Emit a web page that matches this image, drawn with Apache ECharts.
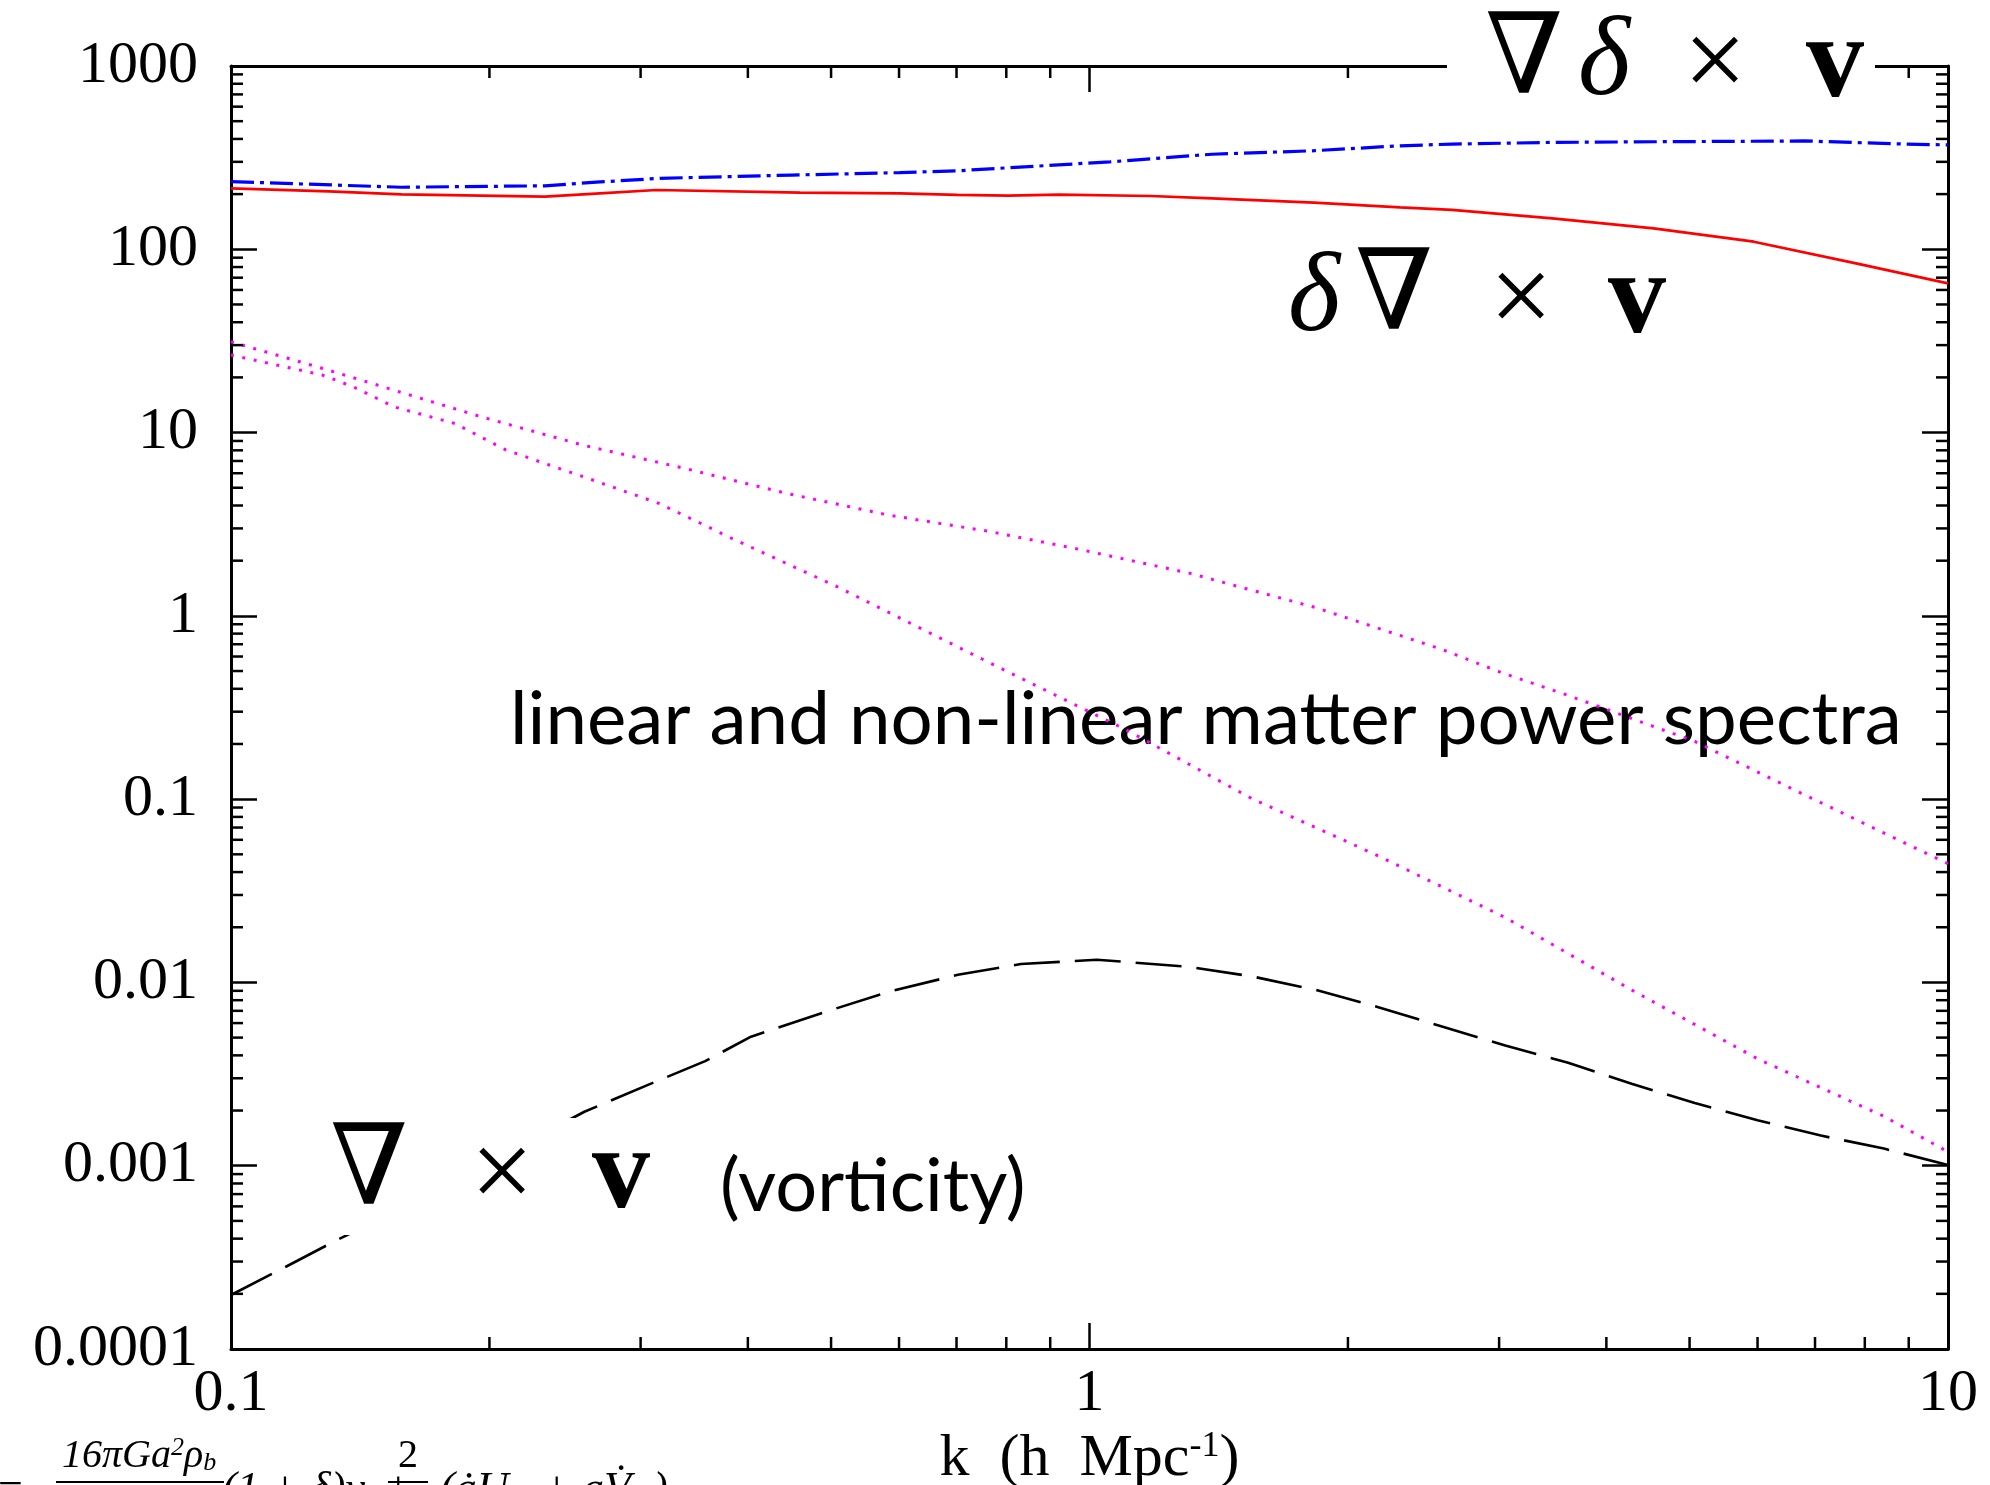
<!DOCTYPE html>
<html><head><meta charset="utf-8">
<script src="https://cdn.jsdelivr.net/npm/echarts@6/dist/echarts.min.js"></script>
<style>html,body{margin:0;padding:0;background:#fff}#c{width:1990px;height:1485px}</style>
</head><body><div id="c"></div>
<script>
// ---- data ----
const kRed = [0.1, 0.13, 0.158, 0.232, 0.269, 0.313, 0.46, 0.601, 0.701, 0.804, 0.921, 1.179, 1.389, 1.826, 2.30, 2.644, 3.46, 4.54, 5.94, 7.79, 10];
const vRed = [215, 207, 199.5, 193.6, 202, 210.6, 203.6, 202, 197.9, 196, 198.6, 195.3, 189.7, 179.6, 169.5, 164, 147.6, 130, 110, 84, 65.2];

const kBlue = [0.1, 0.158, 0.232, 0.269, 0.316, 0.45, 0.601, 0.701, 1.056, 1.389, 1.826, 2.30, 2.644, 3.46, 4.54, 6.8, 8.9, 10];
const vBlue = [234, 218, 222, 233, 244, 254, 262, 268, 300, 330, 345, 367, 375, 383, 386, 390, 375, 371];

const kNonlin = [0.1, 0.1295, 0.159, 0.198, 0.2567, 0.3375, 0.4436, 0.583, 0.767, 0.98, 1.307, 1.834, 2.574, 3.02, 3.61, 5.07, 6.58, 7.11, 10];
const vNonlin = [31.3, 22, 16.4, 12.0, 8.55, 6.38, 4.66, 3.55, 2.88, 2.29, 1.71, 1.11, 0.656, 0.49, 0.368, 0.2065, 0.114, 0.0957, 0.0444];

const kLin = [0.1, 0.1278, 0.1387, 0.155, 0.1824, 0.209, 0.2638, 0.315, 0.387, 0.5087, 0.767, 1.103, 1.55, 2.17, 3.05, 4.28, 6.0, 8.42, 10];
const vLin = [26.5, 20.6, 17.8, 13.8, 11.2, 8.04, 5.51, 4.11, 2.59, 1.44, 0.551, 0.239, 0.1, 0.049, 0.0226, 0.0091, 0.00383, 0.00186, 0.00119];

const kVort = [0.1, 0.116, 0.133, 0.16, 0.2, 0.258, 0.306, 0.3567, 0.4034, 0.5006, 0.584, 0.7025, 0.832, 1.02, 1.307, 1.55, 1.834, 2.17, 2.574, 3.05, 3.61, 4.28, 5.07, 6.0, 7.11, 8.42, 10];
const vVort = [0.000197, 0.000282, 0.000394, 0.0006, 0.00105, 0.00197, 0.00276, 0.00372, 0.00506, 0.00708, 0.0089, 0.011, 0.0126, 0.0133, 0.01216, 0.01076, 0.0091, 0.00733, 0.00575, 0.00453, 0.00365, 0.0028, 0.0022, 0.00177, 0.00146, 0.00124, 0.00101];

const yTickLabels = ['0.0001', '0.001', '0.01', '0.1', '1', '10', '100', '1000'];
const xTickLabels = ['0.1', '1', '10'];

// ---- chart ----
const X_MIN = 0.1, X_MAX = 10, Y_MIN = 1e-4, Y_MAX = 1000;
function pairs(k, v) { return k.map((x, i) => [x, v[i]]); }

const xMinor = [];
for (let d = 0.1; d < 9; d *= 10) for (let m = 2; m <= 9; m++) xMinor.push(+(d * m).toPrecision(3));
const yMinor = [];
for (let e = -4; e < 3; e++) for (let m = 2; m <= 9; m++) yMinor.push(+(m * Math.pow(10, e)).toPrecision(3));
const minorData = [];
xMinor.forEach(v => { minorData.push([v, Y_MIN, 0]); minorData.push([v, Y_MAX, 1]); });
yMinor.forEach(v => { minorData.push([X_MIN, v, 2]); minorData.push([X_MAX, v, 3]); });

const serif = 'Liberation Serif';
const labelFont = { fontFamily: serif, fontSize: 60, color: '#000' };

function txt(text, x, y, size, opts) {
  opts = opts || {};
  return {
    type: 'text', x: x, y: y, z: opts.z == null ? 101 : opts.z,
    style: Object.assign({
      text: text,
      fontFamily: opts.family || serif,
      fontSize: size,
      fontWeight: opts.weight || 'normal',
      fontStyle: opts.style || 'normal',
      fill: '#000',
      textAlign: opts.align || 'center', align: opts.align || 'center',
      textVerticalAlign: 'middle', verticalAlign: 'middle'
    }, opts.extra || {})
  };
}
function box(x, y, w, h) {
  return { type: 'rect', z: 100, shape: { x: x, y: y, width: w, height: h }, style: { fill: '#fff' } };
}

const chart = echarts.init(document.getElementById('c'), null, { renderer: 'canvas' });
const axisCommon = {
  type: 'log', logBase: 10,
  axisLine: { show: true, lineStyle: { color: '#000', width: 3 } },
  axisTick: { show: true, inside: true, length: 26, lineStyle: { color: '#000', width: 2.5 } },
  splitLine: { show: false },
  minorTick: { show: false }, minorSplitLine: { show: false }
};

chart.setOption({
  backgroundColor: '#fff',
  animation: false,
  grid: { left: 231, right: 42, top: 66, bottom: 136, containLabel: false, outerBoundsMode: 'none' },
  xAxis: [
    Object.assign({}, axisCommon, {
      position: 'bottom', min: X_MIN, max: X_MAX,
      axisLabel: Object.assign({}, labelFont, {
        margin: 15, showMinLabel: true, showMaxLabel: true,
        formatter: v => xTickLabels[Math.round(Math.log10(v)) + 1]
      }),
      name: 'k  (h  Mpc{sup|-1})', nameLocation: 'middle', nameGap: 76,
      nameTextStyle: { fontFamily: serif, fontSize: 60, color: '#000',
        rich: { sup: { fontFamily: serif, fontSize: 36, color: '#000', verticalAlign: 'top', padding: [0, 0, 24, 0] } } }
    }),
    Object.assign({}, axisCommon, { position: 'top', min: X_MIN, max: X_MAX, axisLabel: { show: false } })
  ],
  yAxis: [
    Object.assign({}, axisCommon, {
      position: 'left', min: Y_MIN, max: Y_MAX,
      axisLabel: Object.assign({}, labelFont, {
        margin: 33, showMinLabel: true, showMaxLabel: true,
        formatter: v => yTickLabels[Math.round(Math.log10(v)) + 4]
      })
    }),
    Object.assign({}, axisCommon, { position: 'right', min: Y_MIN, max: Y_MAX, axisLabel: { show: false } })
  ],
  series: [
    { type: 'line', name: 'nonlinear', data: pairs(kNonlin, vNonlin), showSymbol: false, z: 2,
      lineStyle: { color: '#ff00ff', width: 3, type: [3, 8.6], cap: 'butt' } },
    { type: 'line', name: 'linear', data: pairs(kLin, vLin), showSymbol: false, z: 2,
      lineStyle: { color: '#ff00ff', width: 3, type: [3, 8.6], cap: 'butt' } },
    { type: 'line', name: 'deltaCurl', data: pairs(kRed, vRed), showSymbol: false, z: 3,
      lineStyle: { color: '#ff0000', width: 2.7, type: 'solid' } },
    { type: 'line', name: 'gradDeltaCross', data: pairs(kBlue, vBlue), showSymbol: false, z: 3,
      lineStyle: { color: '#0000ff', width: 3.2, type: [23, 6, 4, 6], cap: 'butt' } },
    { type: 'line', name: 'vorticity', data: pairs(kVort, vVort), showSymbol: false, z: 3,
      lineStyle: { color: '#000', width: 2.6, type: [46, 15], cap: 'butt' } },
    { type: 'custom', name: 'minorTicks', data: minorData, clip: false, silent: true, z: 4,
      encode: { x: 0, y: 1 },
      renderItem: function (params, api) {
        const side = api.value(2);
        const p = api.coord([api.value(0), api.value(1)]);
        const L = 12; let x2 = p[0], y2 = p[1];
        if (side === 0) y2 -= L; else if (side === 1) y2 += L; else if (side === 2) x2 += L; else x2 -= L;
        return { type: 'line', shape: { x1: p[0], y1: p[1], x2: x2, y2: y2 }, style: { stroke: '#000', lineWidth: 2.5 } };
      } }
  ],
  graphic: { elements: [
    // top label (covers top axis)
    box(1447, 0, 428, 112),
    txt('\u2207', 1524, 64, 112, { family: 'DejaVu Serif' }),
    txt('\u03b4', 1604, 65, 112, { style: 'italic' }),
    txt('\u00d7', 1715, 68, 112),
    txt('v', 1835, 66, 116, { weight: 'bold' }),
    // second label
    box(1286, 233, 392, 127),
    txt('\u03b4', 1314, 301, 112, { style: 'italic' }),
    txt('\u2207', 1394, 300, 112, { family: 'DejaVu Serif' }),
    txt('\u00d7', 1521, 304, 112),
    txt('v', 1637, 302, 116, { weight: 'bold' }),
    // vorticity label
    box(295, 1118, 365, 117),
    txt('\u2207', 369, 1175, 112, { family: 'DejaVu Serif' }),
    txt('\u00d7', 502, 1179, 112),
    txt('v', 621, 1177, 116, { weight: 'bold' }),
    txt('(vorticity)', 720, 1187, 74, { family: 'Lato', align: 'left' }),
    // power spectra label (under the curves)
    txt('linear and non-linear matter power spectra', 510, 720, 74.5, { family: 'Lato', align: 'left', z: 0 }),
    // cut-off equation at the bottom left
    txt('= \u2212', -2, 1490, 44, { align: 'left', z: 5 }),
    txt('16\u03c0Ga{s|2}\u03c1{b|b}', 62, 1456, 40, { align: 'left', style: 'italic', z: 5,
      extra: { rich: { s: { fontSize: 26, fontFamily: serif, fontStyle: 'italic', padding: [0, 0, 16, 0] }, b: { fontSize: 26, fontFamily: serif, fontStyle: 'italic', padding: [14, 0, 0, 0] } } } }),
    { type: 'rect', z: 5, shape: { x: 56, y: 1481, width: 168, height: 2 }, style: { fill: '#000' } },
    txt('(1 + \u03b4)v\u1d62 +', 222, 1490, 44, { align: 'left', style: 'italic', z: 5 }),
    txt('2', 408, 1456, 40, { z: 5 }),
    { type: 'rect', z: 5, shape: { x: 388, y: 1481, width: 40, height: 2 }, style: { fill: '#000' } },
    txt('(\u0227U\u2096\u1d62 + aV\u0307\u2096\u1d62)', 440, 1490, 44, { align: 'left', style: 'italic', z: 5 })
  ] }
});
</script></body></html>
